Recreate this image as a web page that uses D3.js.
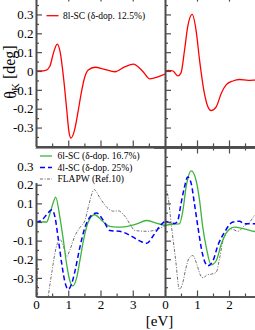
<!DOCTYPE html>
<html>
<head>
<meta charset="utf-8">
<script src="https://cdn.jsdelivr.net/npm/d3@7"></script>
<style>
  body { margin: 0; background: #fff; }
  svg { display: block; font-family: "Liberation Serif", "Times New Roman", serif; }
</style>
</head>
<body>
<div id="vis"></div>
<script>
///////data/////////////////////////////////////
// left panels: Kerr rotation, right panels: second quantity, same eV axis
const e8Left  = [0, 0.15, 0.3, 0.43, 0.54, 0.66, 0.75, 0.85, 0.95, 1.02, 1.085, 1.2, 1.3, 1.4, 1.5, 1.62, 1.83, 2.1, 2.45, 2.75, 3.02, 3.3, 3.53, 3.8, 4.0]
const v8Left  = [0, 0.0, 0.003, 0.025, 0.095, 0.143, 0.10, -0.03, -0.2, -0.32, -0.356, -0.31, -0.22, -0.12, -0.04, 0.005, 0.02, 0.01, -0.004, 0.022, 0.037, 0.0, -0.042, -0.03, -0.016]
const e8Right = [0, 0.1, 0.18, 0.25, 0.4, 0.5, 0.61, 0.71, 0.85, 0.97, 1.08, 1.23, 1.34, 1.44, 1.6, 1.76, 1.91, 2.12, 2.33, 2.6, 2.8, 3.0]
const v8Right = [0, 0.003, 0.002, 0.0, -0.026, -0.01, 0.11, 0.235, 0.30, 0.217, 0.058, -0.118, -0.19, -0.21, -0.19, -0.118, -0.074, -0.053, -0.045, -0.05, -0.048, -0.045]

const e6Left  = [0, 0.2, 0.33, 0.43, 0.54, 0.61, 0.74, 0.85, 0.95, 1.05, 1.14, 1.26, 1.36, 1.47, 1.62, 1.81, 2.09, 2.29, 2.5, 2.8, 3.1, 3.43, 3.7, 4.0]
const v6Left  = [0, 0.0, 0.0, 0.044, 0.107, 0.134, 0.026, -0.1, -0.226, -0.316, -0.343, -0.3, -0.208, -0.1, 0.0, 0.039, 0.0, -0.024, -0.028, -0.025, -0.012, 0.008, -0.005, -0.019]
const e6Right = [0, 0.2, 0.45, 0.56, 0.66, 0.82, 0.97, 1.08, 1.18, 1.29, 1.44, 1.6, 1.76, 1.91, 2.17, 2.48, 2.8, 3.0]
const v6Right = [-0.019, -0.012, -0.01, 0.062, 0.188, 0.275, 0.224, 0.116, -0.028, -0.136, -0.23, -0.208, -0.118, -0.06, -0.028, -0.037, -0.051, -0.055]

const e4Left  = [0, 0.18, 0.33, 0.49, 0.59, 0.69, 0.8, 0.9, 1.0, 1.1, 1.21, 1.36, 1.52, 1.67, 1.88, 2.09, 2.29, 2.6, 2.9, 3.2, 3.43, 3.65, 3.85, 4.0]
const v4Left  = [0, 0.01, 0.04, 0.066, 0.026, -0.09, -0.226, -0.325, -0.361, -0.334, -0.262, -0.136, -0.028, 0.026, 0.048, 0.008, -0.046, -0.05, -0.07, -0.1, -0.114, -0.07, -0.02, 0.004]
const e4Right = [0, 0.3, 0.4, 0.5, 0.61, 0.71, 0.82, 0.92, 1.03, 1.13, 1.23, 1.34, 1.5, 1.65, 1.86, 2.12, 2.33, 2.48, 2.8, 3.0]
const v4Right = [0.005, -0.008, 0.008, 0.098, 0.188, 0.242, 0.206, 0.098, -0.028, -0.136, -0.208, -0.235, -0.208, -0.127, -0.055, 0.0, 0.004, -0.01, -0.01, -0.01]

const eFlLeft  = [0, 0.03, 0.06, 0.1, 0.25, 0.38, 0.5, 0.62, 0.75, 0.85, 0.95, 1.05, 1.21, 1.36, 1.52, 1.65, 1.73, 1.8, 1.98, 2.19, 2.4, 2.55, 2.76, 2.91, 3.07, 3.48, 3.79, 4.0]
const vFlLeft  = [0, -0.2, -0.45, -0.55, -0.6, -0.40, -0.26, -0.14, -0.095, -0.13, -0.186, -0.15, -0.073, -0.03, 0.01, 0.1, 0.15, 0.174, 0.13, 0.08, 0.058, 0.06, 0.03, -0.01, -0.046, -0.05, -0.037, -0.02]
const eFlRight = [0, 0.03, 0.08, 0.2, 0.33, 0.45, 0.55, 0.65, 0.75, 0.87, 1.0, 1.12, 1.2, 1.3, 1.44, 1.6, 1.7, 1.8, 1.9, 2.07, 2.28, 2.48, 2.65, 2.8, 3.0]
const vFlRight = [0.0, 0.17, 0.15, -0.02, -0.2, -0.361, -0.33, -0.25, -0.195, -0.18, -0.23, -0.29, -0.3, -0.285, -0.28, -0.27, -0.2, -0.11, -0.065, -0.037, -0.05, -0.02, 0.0, 0.035, 0.06]

const yTickLabels = [0.3, 0.2, 0.1, 0, -0.1, -0.2, -0.3]
const yMinor = [-0.35, -0.25, -0.15, -0.05, 0.05, 0.15, 0.25, 0.35]
const xTicksLeft = [0, 1, 2, 3]
const xMinorLeft = [0.5, 1.5, 2.5, 3.5]
const xTicksRight = [0, 1, 2]
const xMinorRight = [0.5, 1.5, 2.5]
const legendTop = ["8l-SC (δ-dop. 12.5%)"]
const legendBottom = ["6l-SC (δ-dop. 16.7%)", "4l-SC (δ-dop. 25%)", "FLAPW (Ref.10)"]

///////setting up/////////////////////////////////////////////////
var width = 255
var height = 330
const axisColor = "#4d4d4d"

const svg = d3.select("#vis")
  .append("svg")
  .attr("width", width)
  .attr("height", height)

const xL = d3.scaleLinear().domain([0, 4]).range([36, 165])
const xR = d3.scaleLinear().domain([0, 3]).range([165, 261])
const yT = d3.scaleLinear().domain([-0.4, 0.4]).range([146.4, -4.4])
const yB = d3.scaleLinear().domain([-0.4, 0.4]).range([296.5, 147.5])

const fmt = d => d == 0 ? "0" : (d < 0 ? "-" : "") + Math.abs(d).toFixed(1)

const panels = [
  {id: "tl", x: xL, y: yT, left: true,  bottom: false},
  {id: "tr", x: xR, y: yT, left: false, bottom: false},
  {id: "bl", x: xL, y: yB, left: true,  bottom: true},
  {id: "br", x: xR, y: yB, left: false, bottom: true}
]

////////clip paths////////////////////////////////////////////////
const defs = svg.append("defs")
panels.forEach(p => {
  defs.append("clipPath").attr("id", "clip-" + p.id)
    .append("rect")
    .attr("x", p.x.range()[0]).attr("y", p.y.range()[1])
    .attr("width", p.x.range()[1] - p.x.range()[0])
    .attr("height", p.y.range()[0] - p.y.range()[1])
})

////////curves////////////////////////////////////////////////////
function drawCurve(p, es, vs, color, dash, sw) {
  const pts = es.map((e, i) => [e, vs[i]])
  const line = d3.line()
    .x(d => p.x(d[0]))
    .y(d => p.y(d[1]))
    .curve(d3.curveMonotoneX)
  svg.append("path")
    .datum(pts)
    .attr("clip-path", "url(#clip-" + p.id + ")")
    .attr("fill", "none")
    .attr("stroke", color)
    .attr("stroke-width", sw)
    .attr("stroke-dasharray", dash)
    .attr("d", line)
}

const red = "#ff0000", green = "#3cb43c", blue = "#0000ff", grey = "#707070"
const flDash = "3,1.5,1,1.5"

drawCurve(panels[0], e8Left, v8Left, red, null, 1.3)
drawCurve(panels[1], e8Right, v8Right, red, null, 1.3)

drawCurve(panels[2], eFlLeft, vFlLeft, grey, flDash, 1)
drawCurve(panels[3], eFlRight, vFlRight, grey, flDash, 1)
drawCurve(panels[2], e6Left, v6Left, green, null, 1.3)
drawCurve(panels[3], e6Right, v6Right, green, null, 1.3)
drawCurve(panels[2], e4Left, v4Left, blue, "5,3", 1.5)
drawCurve(panels[3], e4Right, v4Right, blue, "5,3", 1.5)

////////axes/////////////////////////////////////////////////////
function styleAxis(g) {
  g.attr("color", axisColor).attr("font-family", null).attr("font-size", null)
  g.selectAll(".domain").attr("stroke-width", 1.6)
  g.selectAll(".tick line").attr("stroke-width", 1.2)
  g.selectAll("text").attr("fill", "#000").style("font-size", "13px")
}

panels.forEach(p => {
  const x0 = p.x.range()[0], x1 = p.x.range()[1]
  const yTop = p.y.range()[1], yBot = p.y.range()[0]
  const xMaj = p.left ? xTicksLeft : xTicksRight
  const xMin = p.left ? xMinorLeft : xMinorRight

  // left edge, ticks pointing in
  svg.append("g").attr("transform", `translate(${x0},0)`)
    .call(d3.axisLeft(p.y).tickValues(yTickLabels).tickSize(-6).tickSizeOuter(0).tickPadding(2.5)
      .tickFormat(p.left ? fmt : ""))
    .call(styleAxis)
  svg.append("g").attr("transform", `translate(${x0},0)`)
    .call(d3.axisLeft(p.y).tickValues(yMinor).tickSize(-3).tickSizeOuter(0).tickFormat(""))
    .call(styleAxis)

  // bottom edge
  svg.append("g").attr("transform", `translate(0,${yBot})`)
    .call(d3.axisBottom(p.x).tickValues(xMaj).tickSize(-6).tickSizeOuter(0).tickPadding(3.5)
      .tickFormat(p.bottom ? d3.format("d") : ""))
    .call(styleAxis)
  svg.append("g").attr("transform", `translate(0,${yBot})`)
    .call(d3.axisBottom(p.x).tickValues(xMin).tickSize(-3).tickSizeOuter(0).tickFormat(""))
    .call(styleAxis)

  // top edge
  svg.append("g").attr("transform", `translate(0,${yTop})`)
    .call(d3.axisTop(p.x).tickValues(xMaj).tickSize(-6).tickSizeOuter(0).tickFormat(""))
    .call(styleAxis)
  svg.append("g").attr("transform", `translate(0,${yTop})`)
    .call(d3.axisTop(p.x).tickValues(xMin).tickSize(-3).tickSizeOuter(0).tickFormat(""))
    .call(styleAxis)
})

////////legends/////////////////////////////////////////////////
// top legend
svg.append("line")
  .attr("x1", 46.5).attr("x2", 58.5).attr("y1", 15.7).attr("y2", 15.7)
  .attr("stroke", red).attr("stroke-width", 1.3)
svg.append("text")
  .attr("x", 63).attr("y", 19)
  .style("font-size", "9.5px")
  .text(legendTop[0])

// bottom legend, white box hides the axis behind it
svg.append("rect")
  .attr("x", 34).attr("y", 148.6).attr("width", 120).attr("height", 34.5)
  .attr("fill", "#fff")

const legColors = [green, blue, grey]
const legDash = [null, "5,3", flDash]
const legW = [1.3, 1.5, 1]
const legY = [156, 167.5, 179]
legendBottom.forEach((name, i) => {
  svg.append("line")
    .attr("x1", 40).attr("x2", 52).attr("y1", legY[i]).attr("y2", legY[i])
    .attr("stroke", legColors[i]).attr("stroke-width", legW[i])
    .attr("stroke-dasharray", legDash[i])
  svg.append("text")
    .attr("x", 57.5).attr("y", legY[i] + 3.3)
    .style("font-size", "9.5px")
    .text(name)
})

////////axis titles/////////////////////////////////////////////
const ytitle = svg.append("text")
  .attr("transform", "translate(16,72) rotate(-90)")
  .attr("text-anchor", "middle")
  .style("font-size", "16px")
ytitle.append("tspan").text("θ")
ytitle.append("tspan").attr("dy", "0.3em").style("font-size", "11px").text("K")
ytitle.append("tspan").attr("dy", "-0.3em").text(" [deg]")

svg.append("text")
  .attr("x", 159.5).attr("y", 326)
  .attr("text-anchor", "middle")
  .style("font-size", "15px")
  .text("[eV]")
</script>
</body>
</html>
